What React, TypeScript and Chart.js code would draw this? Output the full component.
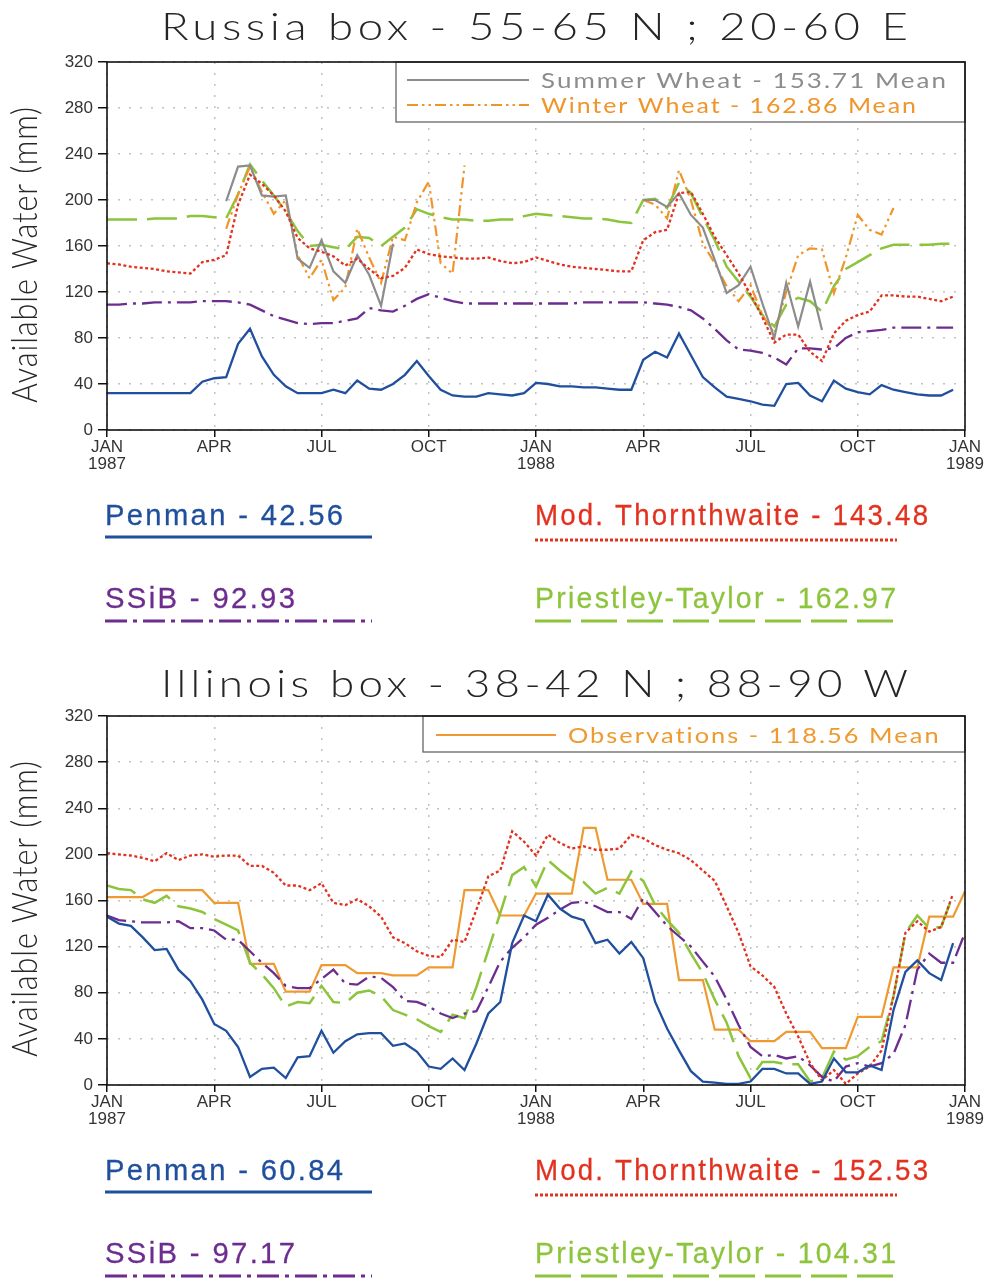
import React, { useEffect, useRef } from "react";
import { Chart, registerables } from "chart.js";

Chart.register(...registerables);

const FONT = "'Liberation Sans', Arial, sans-serif";
const LIGHT_FONT = "Lato, 'Liberation Sans', sans-serif";

// x axis: 10-day periods (dekads) from Jan 1987; a labelled tick every 9 dekads (3 months)
const X_TICK_LABELS: (string | string[])[] = [
  ["JAN", "1987"], "APR", "JUL", "OCT", ["JAN", "1988"], "APR", "JUL", "OCT", ["JAN", "1989"],
];
const X_MAX = 72;
const X_STEP = 9;
const Y_MIN = 0;
const Y_MAX = 320;
const Y_STEP = 40;

const N = null;

// ---------- Russia box ----------
const RU_PENMAN = [
  32, 32, 32, 32, 32, 32, 32, 32, 42, 45,
  46, 75, 88, 64, 48, 38, 32, 32, 32, 35,
  32, 43, 36, 35, 40, 48, 60, 47, 35, 30,
  29, 29, 32, 31, 30, 32, 41, 40, 38, 38,
  37, 37, 36, 35, 35, 61, 68, 63, 84, 65,
  46, 37, 29, 27, 25, 22, 21, 40, 41, 30,
  25, 43, 36, 33, 31, 39, 35, 33, 31, 30,
  30, 35,
];
const RU_THORN = [
  145, 144, 142, 141, 140, 138, 137, 136, 146, 148,
  152, 196, 222, 214, 204, 190, 167, 158, 155, 151,
  143, 149, 140, 132, 134, 141, 157, 153, 151, 150,
  149, 149, 150, 147, 145, 146, 150, 147, 144, 142,
  141, 140, 139, 138, 138, 165, 172, 174, 206, 207,
  188, 168, 152, 136, 118, 98, 76, 83, 83, 68,
  60, 84, 95, 100, 103, 117, 117, 116, 116, 114,
  112, 116,
];
const RU_SSIB = [
  109, 109, 110, 110, 111, 111, 111, 111, 112, 112,
  112, 111, 109, 104, 99, 96, 93, 92, 93, 93,
  95, 97, 106, 104, 103, 108, 114, 118, 115, 112,
  110, 110, 110, 110, 110, 110, 110, 110, 110, 110,
  111, 111, 111, 111, 111, 111, 110, 109, 107, 104,
  97, 88, 78, 70, 69, 67, 63, 57, 71, 71,
  70, 71, 80, 85, 86, 87, 89, 89, 89, 89,
  89, 89,
];
const RU_PT = [
  183, 183, 183, 183, 184, 184, 184, 186, 186, 185,
  184, 205, 231, 217, 204, 190, 173, 160, 161, 159,
  157, 168, 167, 160, 168, 176, 192, 188, 185, 183,
  183, 182, 182, 183, 183, 186, 188, 187, 186, 185,
  184, 184, 183, 181, 180, 200, 201, 193, 215, 206,
  185, 165, 142, 129, 116, 100, 90, 109, 115, 112,
  103, 125, 140, 146, 152, 158, 161, 161, 161, 161,
  162, 162,
];
const RU_SUMMER = [
  N, N, N, N, N, N, N, N, N, N,
  199, 229, 230, 204, 203, 204, 149, 141, 165, 138,
  128, 152, 135, 108, 162, N, N, N, N, N,
  N, N, N, N, N, N, N, N, N, N,
  N, N, N, N, N, 200, 200, 194, 206, 187,
  176, 148, 119, 126, 142, 110, 80, 128, 90, 129,
  87, N, N, N, N, N, N, N, N, N,
  N, N,
];
const RU_WINTER = [
  N, N, N, N, N, N, N, N, N, N,
  175, 205, 229, 207, 188, 200, 152, 132, 148, 113,
  124, 175, 150, 128, 168, 165, 198, 216, 145, 136,
  230, N, N, N, N, N, N, N, N, N,
  N, N, N, N, N, 200, 196, 184, 226, 200,
  162, 145, 125, 112, 126, 100, 84, 120, 152, 158,
  157, 119, 150, 187, 174, 170, 193, N, N, N,
  N, N,
];

// ---------- Illinois box ----------
const IL_PENMAN = [
  146, 140, 138, 128, 117, 118, 100, 90, 74, 53,
  47, 33, 7, 14, 15, 6, 24, 25, 47, 28,
  38, 44, 45, 45, 34, 36, 29, 16, 14, 23,
  13, 36, 62, 72, 123, 147, 142, 165, 153, 146,
  143, 123, 126, 114, 124, 110, 72, 49, 30, 12,
  3, 2, 1, 1, 3, 14, 14, 10, 10, 1,
  3, 23, 11, 11, 17, 13, 65, 98, 108, 97,
  91, 123, N,
];
const IL_THORN = [
  201, 200, 199, 197, 194, 201, 195, 199, 200, 198,
  199, 199, 190, 190, 184, 173, 173, 169, 175, 158,
  156, 161, 155, 146, 128, 123, 116, 112, 111, 126,
  124, 152, 181, 186, 220, 211, 199, 217, 210, 205,
  207, 204, 204, 205, 217, 214, 208, 204, 201, 195,
  186, 177, 155, 132, 103, 95, 85, 62, 42, 19,
  4, 13, 1, 10, 16, 30, 77, 132, 142, 133,
  137, 166, N,
];
const IL_SSIB = [
  147, 143, 142, 141, 141, 141, 142, 136, 136, 134,
  126, 126, 116, 106, 97, 86, 84, 84, 92, 100,
  88, 87, 94, 93, 85, 73, 72, 68, 62, 58,
  62, 64, 85, 107, 119, 128, 139, 145, 152, 158,
  159, 155, 150, 150, 144, 162, 150, 138, 129, 120,
  107, 94, 74, 52, 33, 25, 26, 23, 25, 17,
  7, 3, 16, 19, 16, 19, 27, 52, 100, 114,
  106, 106, 132,
];
const IL_PT = [
  173, 170, 169, 161, 158, 164, 155, 153, 150, 144,
  139, 134, 106, 96, 84, 68, 72, 71, 86, 72,
  71, 80, 82, 77, 65, 61, 57, 51, 46, 61,
  58, 85, 117, 149, 182, 189, 172, 195, 186, 178,
  176, 166, 171, 166, 185, 177, 156, 143, 132, 114,
  97, 74, 54, 25, 6, 20, 20, 18, 18, 3,
  6, 29, 22, 25, 33, 38, 77, 132, 147, 136,
  137, 165, N,
];
const IL_OBS = [
  163, 163, 163, 163, 169, 169, 169, 169, 169, 158,
  158, 158, 105, 105, 105, 81, 81, 81, 104, 104,
  104, 97, 97, 97, 95, 95, 95, 102, 102, 102,
  169, 169, 169, 147, 147, 147, 166, 166, 166, 166,
  223, 223, 178, 178, 178, 157, 157, 157, 91, 91,
  91, 48, 48, 48, 38, 38, 38, 46, 46, 46,
  32, 32, 32, 59, 59, 59, 102, 102, 102, 146,
  146, 146, 168,
];

// ---------- styles ----------
const C_PENMAN = "#1f4f9d";
const C_THORN = "#e2321f";
const C_SSIB = "#6c2d8e";
const C_PT = "#8cc43c";
const C_SUMMER = "#8c8c8c";
const C_WINTER = "#ef952b";
const C_OBS = "#ef9a30";

const D_THORN = [3, 2.5];
const D_SSIB = [20, 6, 3, 6];
const D_PT = [30, 10];
const D_WINTER = [11, 4, 2.5, 4, 2.5, 4];

type Txt = {
  text: string; a: number; b: number; base: number; size: number; color: string;
  stroke?: number; rot?: boolean; ls?: number; family?: string; weight?: string;
};
type Seg = { x1: number; x2: number; y: number; color: string; dash: number[]; width: number };
type Box = { x1: number; y1: number; x2: number; y2: number };
type Decor = { offset: number; texts: Txt[]; segs: Seg[]; boxes: Box[] };

// draws text so that it spans exactly from a to b: fixed letter spacing (in em), glyphs scaled horizontally
function drawText(ctx: CanvasRenderingContext2D, t: Txt, off: number) {
  ctx.save();
  ctx.font = `${t.weight ?? "normal"} ${t.size}px ${t.family ?? FONT}`;
  (ctx as any).letterSpacing = "0px";
  ctx.fillStyle = t.color;
  ctx.textBaseline = "alphabetic";
  ctx.textAlign = "left";
  const w0 = ctx.measureText(t.text).width;
  const len = Math.abs(t.b - t.a);
  const n = t.text.length;
  const lsPx = (t.ls ?? 0) * t.size;
  const sq = len / (w0 + (n - 1) * lsPx);
  (ctx as any).letterSpacing = `${lsPx}px`;
  if (t.rot) {
    ctx.translate(t.base, t.a - off);
    ctx.rotate(-Math.PI / 2);
  } else {
    ctx.translate(t.a, t.base - off);
  }
  ctx.scale(sq, 1);
  ctx.fillText(t.text, 0, 0);
  if (t.stroke) {
    ctx.strokeStyle = t.color;
    ctx.lineWidth = t.stroke;
    ctx.strokeText(t.text, 0, 0);
  }
  ctx.restore();
}

function makeDecorPlugin(decor: Decor) {
  return {
    id: "decor",
    afterDraw(chart: any) {
      const ctx: CanvasRenderingContext2D = chart.ctx;
      const { left, right, top, bottom } = chart.chartArea;
      const off = decor.offset;
      ctx.save();
      for (const b of decor.boxes) {
        ctx.fillStyle = "#ffffff";
        ctx.fillRect(b.x1, b.y1 - off, b.x2 - b.x1, b.y2 - b.y1);
        ctx.strokeStyle = "#666";
        ctx.lineWidth = 1.3;
        ctx.setLineDash([]);
        ctx.strokeRect(b.x1, b.y1 - off, b.x2 - b.x1, b.y2 - b.y1);
      }
      ctx.strokeStyle = "#111";
      ctx.lineWidth = 1.6;
      ctx.setLineDash([]);
      ctx.strokeRect(left, top, right - left, bottom - top);
      for (const s of decor.segs) {
        ctx.beginPath();
        ctx.strokeStyle = s.color;
        ctx.lineWidth = s.width;
        ctx.setLineDash(s.dash);
        ctx.moveTo(s.x1, s.y - off);
        ctx.lineTo(s.x2, s.y - off);
        ctx.stroke();
      }
      ctx.setLineDash([]);
      ctx.restore();
      for (const t of decor.texts) drawText(ctx, t, off);
    },
  };
}

const pts = (arr: (number | null)[]) => arr.map((y, i) => ({ x: i, y }));

function ds(label: string, arr: (number | null)[], color: string, dash: number[], width: number) {
  return {
    label,
    data: pts(arr),
    borderColor: color,
    backgroundColor: color,
    borderDash: dash,
    borderWidth: width,
    pointRadius: 0,
    tension: 0,
    fill: false,
    spanGaps: false,
  };
}

type PanelProps = { height: number; plotTop: number; plotBottom: number; datasets: any[]; decor: Decor };

function Panel({ height, plotTop, plotBottom, datasets, decor }: PanelProps) {
  const ref = useRef<HTMLCanvasElement>(null);
  useEffect(() => {
    const tickFont = { family: FONT, size: 17, lineHeight: 1.05 };
    const chart = new Chart(ref.current as HTMLCanvasElement, {
      type: "line",
      data: { datasets },
      options: {
        responsive: false,
        animation: false,
        devicePixelRatio: 1,
        layout: { padding: { top: plotTop, right: 31, left: 0, bottom: 0 } },
        plugins: { legend: { display: false }, tooltip: { enabled: false }, title: { display: false } },
        scales: {
          x: {
            type: "linear",
            min: 0,
            max: X_MAX,
            afterFit: (s: any) => {
              s.height = height - plotBottom;
            },
            ticks: {
              stepSize: X_STEP,
              autoSkip: false,
              maxRotation: 0,
              minRotation: 0,
              padding: 1,
              color: "#333",
              font: tickFont,
              callback: (v: any) => X_TICK_LABELS[Math.round(Number(v) / X_STEP)] ?? "",
            },
            grid: {
              color: "#c2c2c2",
              lineWidth: 1.5,
              drawTicks: true,
              tickLength: 7,
              tickColor: "#111",
              tickWidth: 1.5,
              tickBorderDash: [],
            },
            border: { display: false, dash: [2, 9] },
          },
          y: {
            type: "linear",
            min: Y_MIN,
            max: Y_MAX,
            afterFit: (s: any) => {
              s.width = 107;
            },
            ticks: { stepSize: Y_STEP, padding: 5, color: "#333", font: tickFont },
            grid: {
              color: "#c2c2c2",
              lineWidth: 1.5,
              drawTicks: true,
              tickLength: 9,
              tickColor: "#111",
              tickWidth: 1.5,
              tickBorderDash: [],
            },
            border: { display: false, dash: [2, 9] },
          },
        },
      } as any,
      plugins: [makeDecorPlugin(decor)],
    });
    return () => chart.destroy();
  }, []);
  return <canvas ref={ref} width={996} height={height} style={{ display: "block", width: 996, height }} />;
}

const TXT = "#262626";

function legendBlock(vals: string[], y1: number, y2: number): { texts: Txt[]; segs: Seg[] } {
  const common = { size: 30, ls: 0.08, stroke: 0.3 };
  const texts: Txt[] = [
    { text: `Penman - ${vals[0]}`, a: 105, b: 343, base: y1, color: C_PENMAN, ...common },
    { text: `Mod. Thornthwaite - ${vals[1]}`, a: 535, b: 928, base: y1, color: C_THORN, ...common },
    { text: `SSiB - ${vals[2]}`, a: 105, b: 295, base: y2, color: C_SSIB, ...common },
    { text: `Priestley-Taylor - ${vals[3]}`, a: 535, b: 896, base: y2, color: C_PT, ...common },
  ];
  const segs: Seg[] = [
    { x1: 105, x2: 372, y: y1 + 12, color: C_PENMAN, dash: [], width: 3 },
    { x1: 535, x2: 897, y: y1 + 15, color: C_THORN, dash: [3, 2], width: 3 },
    { x1: 105, x2: 372, y: y2 + 13, color: C_SSIB, dash: [22, 6, 4, 6], width: 3 },
    { x1: 535, x2: 894, y: y2 + 13, color: C_PT, dash: [36, 10], width: 3 },
  ];
  return { texts, segs };
}

const topLegend = legendBlock(["42.56", "143.48", "92.93", "162.97"], 525, 608);
const botLegend = legendBlock(["60.84", "152.53", "97.17", "104.31"], 1180, 1263);

const TITLE_STYLE = { size: 37, color: TXT, family: LIGHT_FONT, weight: "300", ls: 0.1 };
const YLABEL_STYLE = { size: 36, color: TXT, rot: true, family: LIGHT_FONT, weight: "300", ls: 0.03 };
const BOXTXT_STYLE = { size: 22, family: LIGHT_FONT, weight: "normal", ls: 0.08 };

const RU_DECOR: Decor = {
  offset: 0,
  boxes: [{ x1: 396, y1: 62, x2: 965, y2: 122 }],
  texts: [
    { text: "Russia box - 55-65 N ; 20-60 E", a: 161, b: 908, base: 40, ...TITLE_STYLE },
    { text: "Available Water (mm)", a: 403, b: 107, base: 37, ...YLABEL_STYLE },
    { text: "Summer Wheat - 153.71 Mean", a: 541, b: 946, base: 88, color: C_SUMMER, ...BOXTXT_STYLE },
    { text: "Winter Wheat - 162.86 Mean", a: 541, b: 916, base: 113, color: C_WINTER, ...BOXTXT_STYLE },
    ...topLegend.texts,
  ],
  segs: [
    { x1: 407, x2: 529, y: 80, color: C_SUMMER, dash: [], width: 2 },
    { x1: 407, x2: 529, y: 105, color: C_WINTER, dash: D_WINTER, width: 2 },
    ...topLegend.segs,
  ],
};

const IL_OFFSET = 648;
const IL_DECOR: Decor = {
  offset: IL_OFFSET,
  boxes: [{ x1: 423, y1: 716, x2: 965, y2: 752 }],
  texts: [
    { text: "Illinois box - 38-42 N ; 88-90 W", a: 161, b: 908, base: 697, ...TITLE_STYLE },
    { text: "Available Water (mm)", a: 1057, b: 761, base: 37, ...YLABEL_STYLE },
    { text: "Observations - 118.56 Mean", a: 568, b: 939, base: 743, color: C_OBS, ...BOXTXT_STYLE },
    ...botLegend.texts,
  ],
  segs: [{ x1: 436, x2: 556, y: 735, color: C_OBS, dash: [], width: 2 }, ...botLegend.segs],
};

const RU_DATASETS = [
  ds("Penman", RU_PENMAN, C_PENMAN, [], 2.3),
  ds("Mod. Thornthwaite", RU_THORN, C_THORN, D_THORN, 2.3),
  ds("SSiB", RU_SSIB, C_SSIB, D_SSIB, 2.3),
  ds("Summer Wheat", RU_SUMMER, C_SUMMER, [], 2.2),
  ds("Winter Wheat", RU_WINTER, C_WINTER, D_WINTER, 2.2),
  ds("Priestley-Taylor", RU_PT, C_PT, D_PT, 2.5),
];

const IL_DATASETS = [
  ds("Penman", IL_PENMAN, C_PENMAN, [], 2.3),
  ds("Mod. Thornthwaite", IL_THORN, C_THORN, D_THORN, 2.3),
  ds("SSiB", IL_SSIB, C_SSIB, D_SSIB, 2.3),
  ds("Priestley-Taylor", IL_PT, C_PT, D_PT, 2.5),
  ds("Observations", IL_OBS, C_OBS, [], 2.2),
];

export default function App() {
  return (
    <div style={{ position: "absolute", left: 0, top: 0, width: 996, height: 1278, background: "#fff", overflow: "hidden" }}>
      <Panel height={IL_OFFSET} plotTop={62} plotBottom={430} datasets={RU_DATASETS} decor={RU_DECOR} />
      <Panel height={1278 - IL_OFFSET} plotTop={716 - IL_OFFSET} plotBottom={1085 - IL_OFFSET} datasets={IL_DATASETS} decor={IL_DECOR} />
    </div>
  );
}
